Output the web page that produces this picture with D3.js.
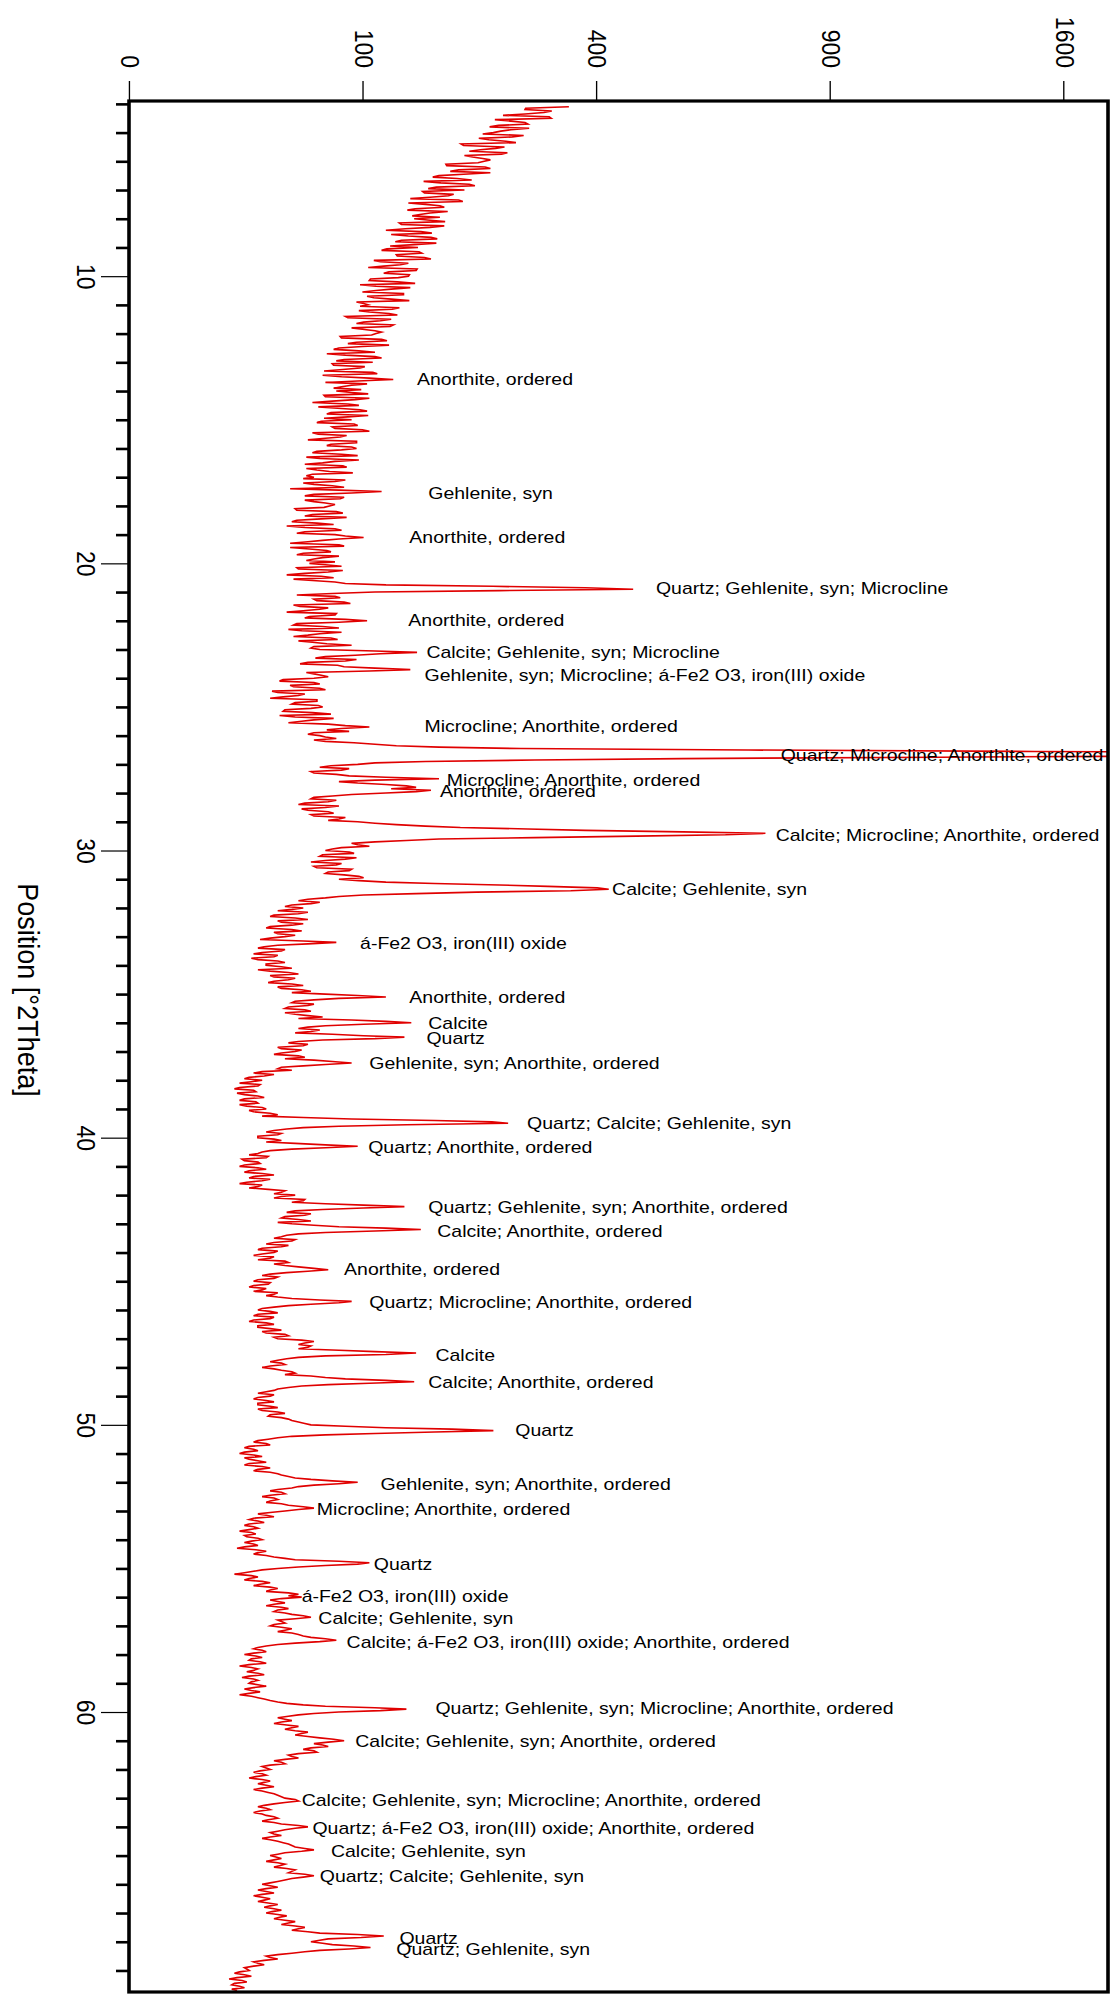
<!DOCTYPE html>
<html>
<head>
<meta charset="utf-8">
<script src="https://cdn.jsdelivr.net/npm/d3@7"></script>
<style>
  html, body { margin: 0; padding: 0; background: #ffffff; }
  svg { display: block; }
</style>
</head>
<body>
<svg id="chart" width="1112" height="2000"></svg>
<script>
// Scan: counts every 0.1 °2Theta starting at 4.1
const thetaStart = 4.1;
const thetaStep = 0.1;
const counts = [
  353,286,314,255,325,266,290,237,266,
  242,284,223,259,201,257,225,261,205,228,
  230,183,231,198,238,175,196,158,211,172,
  205,159,186,144,203,160,181,141,165,146,
  148,182,135,165,120,167,142,173,129,148,
  152,116,156,131,166,115,134,104,150,118,
  142,106,131,97,144,111,137,103,125,94,
  104,133,96,123,85,125,100,127,90,110,
  111,81,116,94,123,80,96,71,110,84,
  108,76,97,69,112,82,127,70,90,76,
  78,104,70,93,61,96,79,103,71,87,
  90,64,95,77,105,65,81,58,94,71,
  94,64,82,57,96,68,83,57,73,61,
  62,85,55,75,47,116,62,84,56,70,
  73,50,78,61,86,51,64,45,77,56,
  77,100,68,47,84,59,74,51,68,57,
  59,82,52,72,45,76,61,85,241,464,
  110,51,81,64,89,53,66,45,77,56,
  103,51,68,46,82,58,74,52,71,62,
  66,151,93,63,85,53,84,144,57,67,
  62,41,66,49,70,40,52,36,64,48,
  68,44,61,41,76,54,72,105,71,62,
  66,78,70,110,175,700,3100,2300,560,160,
  95,66,82,62,88,175,80,120,150,166,
  120,75,60,72,52,70,58,76,62,80,
  95,130,200,380,740,470,175,110,95,82,
  70,92,66,85,60,78,64,88,70,96,
  80,120,250,400,356,150,80,58,66,48,
  55,40,52,36,58,42,48,34,54,40,
  44,31,78,40,30,42,28,38,30,44,
  34,48,36,52,38,46,35,55,42,60,
  70,120,62,48,58,44,60,50,68,90,
  145,70,52,60,75,138,68,46,55,42,
  50,38,56,62,90,55,40,32,38,26,
  32,22,30,20,29,24,33,22,30,25,
  34,28,40,55,170,262,80,45,34,40,
  30,42,50,95,48,32,26,34,24,31,
  22,34,24,38,26,32,22,30,35,42,
  50,38,55,70,138,68,45,56,42,60,
  48,80,155,70,45,38,48,34,42,30,
  38,28,36,44,38,52,72,45,32,38,
  28,35,26,32,40,34,48,90,60,38,
  30,40,28,36,26,38,30,42,34,46,
  40,62,52,58,80,150,70,45,36,44,
  32,42,50,60,85,148,72,46,38,30,
  36,28,38,30,40,32,44,35,46,52,
  60,120,242,110,48,35,28,36,24,30,
  22,32,26,34,24,36,28,40,46,60,
  95,62,48,36,44,32,40,34,46,62,
  44,30,38,26,33,24,30,22,29,25,
  32,24,30,21,34,28,38,50,105,70,
  40,28,20,30,24,36,28,40,34,52,
  54,36,44,34,46,38,48,60,40,44,
  36,48,40,52,60,78,50,34,28,34,
  24,32,26,34,22,30,25,33,23,30,
  26,34,24,31,22,30,36,45,70,140,
  80,52,40,48,38,52,44,58,50,66,
  84,62,72,55,64,46,52,38,44,32,
  36,28,34,26,36,30,38,28,35,40,
  44,52,38,30,36,28,34,40,32,42,
  58,44,36,42,32,40,46,50,62,44,
  36,42,34,44,38,50,46,62,48,40,
  32,40,30,38,28,36,30,40,33,42,
  34,45,38,50,42,56,48,66,118,72,
  60,75,106,66,48,34,40,28,33,24,
  26,20,27,18,25,19,24,21
];
// Counts at the half steps (4.15, 4.25, ... 69.65)
const countsHalfStep = [
  287,326,286,322,244,286,249,292,252,
  228,268,236,273,204,245,211,253,215,238,
  222,184,238,188,204,168,214,177,218,163,
  157,192,165,198,142,176,149,185,154,176,
  165,133,181,139,155,125,166,135,172,124,
  121,153,130,159,109,142,118,151,123,143,
  132,105,149,111,125,99,137,109,143,100,
  97,126,105,131,87,115,94,124,99,116,
  107,82,121,87,99,76,110,85,116,78,
  75,101,83,108,68,105,95,103,82,98,
  90,69,105,75,87,65,97,74,104,69,
  67,92,75,99,61,86,68,94,74,90,
  82,61,95,66,77,56,86,64,91,57,
  55,77,62,84,80,90,56,81,62,77,
  69,51,83,56,67,48,76,56,82,51,
  85,80,58,80,47,71,55,80,62,77,
  70,51,83,56,67,49,77,120,380,250,
  75,77,62,84,49,72,55,78,59,85,
  80,49,80,54,66,49,79,61,90,60,
  110,115,70,94,58,79,110,105,62,72,
  43,62,47,66,37,56,43,64,50,65,
  60,43,74,50,62,46,85,82,88,58,
  70,62,92,130,280,1500,3300,1200,300,110,
  74,88,60,78,120,110,95,140,125,150,
  90,62,78,56,80,54,72,60,85,72,
  110,160,290,560,650,300,140,90,105,75,
  88,68,94,70,82,62,90,72,84,100,
  96,170,320,420,220,100,70,52,60,44,
  48,58,38,50,40,55,36,48,38,50,
  36,55,58,33,44,32,40,27,40,34,
  42,30,46,36,50,38,48,40,54,48,
  95,80,50,62,46,56,44,58,52,120,
  100,58,66,50,100,110,52,58,40,54,
  42,52,44,75,70,42,48,28,33,24,
  27,31,22,28,21,30,24,29,22,32,
  26,36,32,90,240,140,55,38,42,30,
  38,34,70,70,36,30,35,23,30,24,
  30,26,32,28,36,25,32,26,44,38,
  42,56,48,100,100,50,60,44,52,40,
  62,120,110,52,42,50,38,46,32,40,
  32,38,30,46,44,62,58,36,40,30,
  36,28,34,28,38,40,66,80,46,32,
  36,30,38,28,34,30,36,32,44,38,
  54,56,60,52,110,120,52,40,42,36,
  38,48,44,70,120,105,54,40,34,38,
  30,34,30,36,30,40,36,42,48,56,
  85,190,170,70,40,30,34,26,28,24,
  28,24,30,26,32,30,36,42,50,75,
  80,52,40,42,36,38,36,42,55,52,
  36,34,28,30,26,28,26,27,24,30,
  27,28,24,29,30,34,44,80,95,52,
  32,24,27,26,32,31,36,36,46,46,
  42,40,38,42,40,44,55,50,42,38,
  42,44,48,55,70,66,40,30,32,28,
  29,27,31,26,27,28,30,26,28,27,
  30,28,27,26,27,33,40,55,110,115,
  62,46,44,42,45,48,50,54,58,76,
  72,68,60,62,52,48,44,42,36,34,
  31,32,29,32,33,34,32,32,38,42,
  50,44,33,34,31,32,38,35,38,52,
  50,40,38,36,36,43,48,56,54,40,
  39,38,40,41,45,48,56,55,44,36,
  36,34,34,32,32,33,35,36,38,37,
  40,41,44,46,50,52,58,95,98,66,
  68,92,88,56,40,36,33,30,28,25,
  22,24,21,23,20,22,19
];

// Axis ticks
const intensityTicks = [0, 100, 400, 900, 1600];
const positionTicks = [10, 20, 30, 40, 50, 60];

// Phase identifications: peak position, count level where the label starts, phases
const peakPositions = [13.58, 17.53, 19.09, 20.86, 21.97, 23.09, 23.88, 25.66, 26.68, 27.53,
  27.93, 29.44, 31.35, 33.21, 35.08, 36.01, 36.54, 37.39, 39.47, 40.32,
  42.40, 43.25, 44.58, 45.73, 47.56, 48.49, 50.18, 52.04, 52.93, 54.84,
  55.95, 56.71, 57.55, 59.86, 61.01, 63.06, 64.03, 64.83, 65.72, 67.85, 68.25];
const labelLevels = [151, 163, 143, 507, 142, 161, 159, 159, 776, 184,
  176, 764, 426, 97, 143, 163, 161, 105, 289, 104,
  163, 173, 84, 105, 171, 163, 272, 115, 64, 109,
  54, 65, 86, 171, 93, 54, 61, 74, 66, 133, 130];
const peakPhases = [
  "Anorthite, ordered",
  "Gehlenite, syn",
  "Anorthite, ordered",
  "Quartz; Gehlenite, syn; Microcline",
  "Anorthite, ordered",
  "Calcite; Gehlenite, syn; Microcline",
  "Gehlenite, syn; Microcline; á-Fe2 O3, iron(III) oxide",
  "Microcline; Anorthite, ordered",
  "Quartz; Microcline; Anorthite, ordered",
  "Microcline; Anorthite, ordered",
  "Anorthite, ordered",
  "Calcite; Microcline; Anorthite, ordered",
  "Calcite; Gehlenite, syn",
  "á-Fe2 O3, iron(III) oxide",
  "Anorthite, ordered",
  "Calcite",
  "Quartz",
  "Gehlenite, syn; Anorthite, ordered",
  "Quartz; Calcite; Gehlenite, syn",
  "Quartz; Anorthite, ordered",
  "Quartz; Gehlenite, syn; Anorthite, ordered",
  "Calcite; Anorthite, ordered",
  "Anorthite, ordered",
  "Quartz; Microcline; Anorthite, ordered",
  "Calcite",
  "Calcite; Anorthite, ordered",
  "Quartz",
  "Gehlenite, syn; Anorthite, ordered",
  "Microcline; Anorthite, ordered",
  "Quartz",
  "á-Fe2 O3, iron(III) oxide",
  "Calcite; Gehlenite, syn",
  "Calcite; á-Fe2 O3, iron(III) oxide; Anorthite, ordered",
  "Quartz; Gehlenite, syn; Microcline; Anorthite, ordered",
  "Calcite; Gehlenite, syn; Anorthite, ordered",
  "Calcite; Gehlenite, syn; Microcline; Anorthite, ordered",
  "Quartz; á-Fe2 O3, iron(III) oxide; Anorthite, ordered",
  "Calcite; Gehlenite, syn",
  "Quartz; Calcite; Gehlenite, syn",
  "Quartz",
  "Quartz; Gehlenite, syn"
];

// ---- layout -------------------------------------------------------------
// The pattern is laid out as a normal diffractogram (2Theta along x,
// counts along y) and then turned a quarter turn clockwise onto the page.
const stretch = 1.12;            // across-page stretch of the turned plot
const plotLeft = 1108;           // page x of the top-count edge after turning
const plotTop = 101;             // page y where the 2Theta axis starts
const W = 1891;                  // length of the 2Theta axis
const H = 979 / stretch;         // height of the counts axis (unstretched)

const svg = d3.select("#chart");

const x = d3.scaleLinear().domain([3.9, 69.75]).range([0, W]);
const y = d3.scaleSqrt().domain([0, 1753]).range([978 / stretch, 0]);

const g = svg.append("g")
  .attr("transform", `translate(${plotLeft},${plotTop}) rotate(90) scale(1,${stretch})`);

g.append("defs").append("clipPath").attr("id", "plot-clip")
  .append("rect").attr("x", 0).attr("y", 0).attr("width", W).attr("height", H);

// merge whole and half steps into one ordered scan
const points = [];
counts.forEach((c, i) => {
  points.push({ t: thetaStart + i * thetaStep, c });
  if (i < countsHalfStep.length) {
    points.push({ t: thetaStart + (i + 0.5) * thetaStep, c: countsHalfStep[i] });
  }
});

g.append("path")
  .datum(points)
  .attr("clip-path", "url(#plot-clip)")
  .attr("fill", "none")
  .attr("stroke", "#e00000")
  .attr("stroke-width", 1.6)
  .attr("stroke-linejoin", "miter")
  .attr("d", d3.line().x(d => x(d.t)).y(d => y(d.c)));

// counts axis (runs along the top of the page)
const yAxis = g.append("g")
  .call(d3.axisLeft(y).tickValues(intensityTicks).tickSize(20).tickPadding(13).tickFormat(d3.format("d")));
yAxis.select(".domain").remove();
yAxis.selectAll(".tick line").attr("stroke", "#000").attr("stroke-width", 1.2);
yAxis.selectAll(".tick text")
  .attr("fill", "#000")
  .style("font-family", "'Liberation Sans', Arial, sans-serif")
  .style("font-size", "23px");

// 2Theta axis (runs down the left of the page)
const minorTicks = d3.range(4, 70).filter(v => v % 10 !== 0);
const xMinor = g.append("g").attr("transform", `translate(0,${H})`)
  .call(d3.axisBottom(x).tickValues(minorTicks).tickSize(13 / stretch).tickFormat(""));
xMinor.select(".domain").remove();
xMinor.selectAll(".tick line").attr("stroke", "#000").attr("stroke-width", 2.6);

const xAxis = g.append("g").attr("transform", `translate(0,${H})`)
  .call(d3.axisBottom(x).tickValues(positionTicks).tickSize(28 / stretch).tickPadding(6 / stretch).tickFormat(d3.format("d")));
xAxis.select(".domain").remove();
xAxis.selectAll(".tick line").attr("stroke", "#000").attr("stroke-width", 1.2);
xAxis.selectAll(".tick text")
  .attr("fill", "#000")
  .style("font-family", "'Liberation Sans', Arial, sans-serif")
  .style("font-size", "23px");

g.append("text")
  .attr("x", 889)
  .attr("y", (plotLeft - 18) / stretch)
  .attr("text-anchor", "middle")
  .attr("fill", "#000")
  .style("font-family", "'Liberation Sans', Arial, sans-serif")
  .style("font-size", "27px")
  .text("Position [°2Theta]");

// frame
g.append("rect")
  .attr("x", 0).attr("y", 0).attr("width", W).attr("height", H)
  .attr("fill", "none").attr("stroke", "#000").attr("stroke-width", 3.2);

// phase labels, reading across the page
g.append("g").selectAll("text")
  .data(peakPositions.map((p, i) => ({ p, level: labelLevels[i], text: peakPhases[i] })))
  .join("text")
  .attr("transform", d => `translate(${x(d.p)},${y(d.level)}) rotate(-90)`)
  .attr("text-anchor", "start")
  .attr("dominant-baseline", "central")
  .attr("fill", "#000")
  .style("font-family", "'Liberation Sans', Arial, sans-serif")
  .style("font-size", "17.4px")
  .text(d => d.text);
</script>
</body>
</html>
